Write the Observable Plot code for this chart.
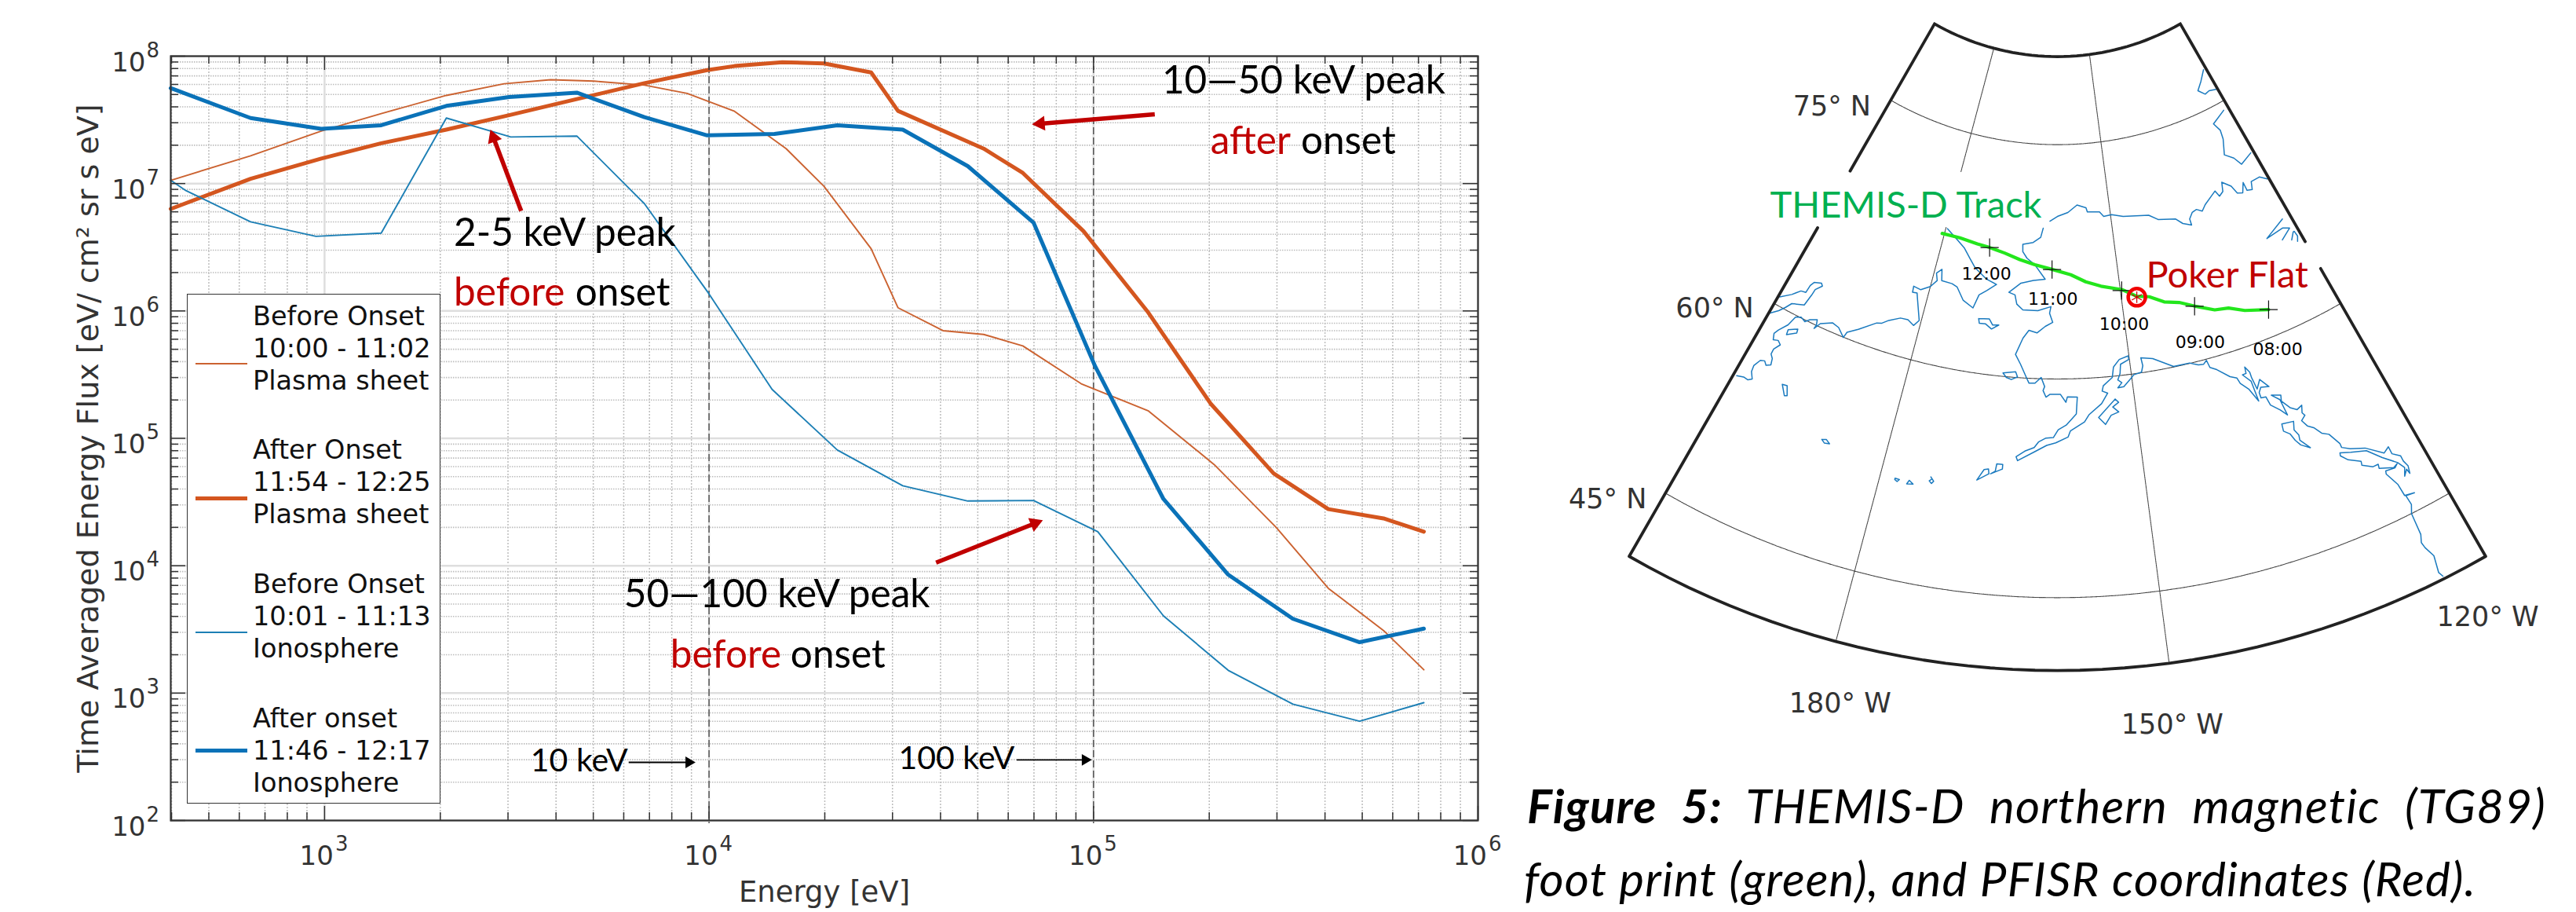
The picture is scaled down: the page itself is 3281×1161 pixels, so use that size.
<!DOCTYPE html><html><head><meta charset="utf-8">
<script src="https://cdn.jsdelivr.net/npm/d3@7"></script>
<script src="https://cdn.jsdelivr.net/npm/@observablehq/plot@0.6"></script>
<style>
html,body{margin:0;padding:0;background:#fff;overflow:hidden;width:3281px;height:1161px}
#stage{position:relative;width:3281px;height:1161px}
#stage svg{position:absolute;left:0;top:0;background:transparent}
.abs{position:absolute;white-space:nowrap}
.leg{font-family:"DejaVu Sans";font-size:33.5px;line-height:41px;color:#111}
.cap{font-family:Lato;font-style:italic;font-size:60px;line-height:70px;letter-spacing:1.2px;color:#000}
</style></head><body><div id="stage"></div>
<script>
// ---------- spectra: energy [eV] and time-averaged energy flux ----------
const energyPS0 = [398,642,980,1404,2074,2930,3873,5023,6790,8768,11650,15870,19900,26400,31000,40600,51800,65500,92900,139000,206000,298600,408000,568000,723000];
const fluxPS0 = [1.06e7,1.65e7,2.58e7,3.54e7,4.92e7,6.07e7,6.53e7,6.37e7,5.92e7,5.10e7,3.69e7,1.88e7,9.53e6,3.08e6,1.06e6,7.0e5,6.54e5,5.31e5,2.68e5,1.64e5,62200,20000,6650,3100,1524];
const energyPS1 = [398,642,980,1404,2074,3020,4530,6790,9890,11650,15500,19900,26400,31000,51800,65500,94200,138000,202000,294000,408000,568000,723000];
const fluxPS1 = [6.32e6,1.09e7,1.57e7,2.07e7,2.65e7,3.44e7,4.60e7,6.14e7,7.78e7,8.36e7,8.96e7,8.77e7,7.45e7,3.72e7,1.88e7,1.21e7,4.22e6,9.95e5,1.86e5,53100,27800,23500,18500];
const energyIon0 = [398,436,642,950,1404,2074,3050,4530,6790,10000,14590,21560,31900,47100,69800,102600,152000,224000,330000,492000,723000];
const fluxIon0 = [1.06e7,8.8e6,5.01e6,3.85e6,4.08e6,3.27e7,2.32e7,2.36e7,6.95e6,1.36e6,2.42e5,8.1e4,42400,32200,32500,18500,4040,1510,820,601,841];
const energyIon1 = [398,642,980,1404,2074,3020,4530,6790,9890,14800,21560,31900,47100,69800,101000,152000,224000,330000,492000,723000];
const fluxIon1 = [5.61e7,3.27e7,2.69e7,2.87e7,4.07e7,4.78e7,5.17e7,3.32e7,2.39e7,2.45e7,2.87e7,2.65e7,1.37e7,4.94e6,3.67e5,33400,8510,3830,2510,3210];

const seriesNames = ["Before Onset PS","After Onset PS","Before Onset Iono","After onset Iono"];
const legendLines = [["Before Onset","10:00 - 11:02","Plasma sheet"],["After Onset","11:54 - 12:25","Plasma sheet"],["Before Onset","10:01 - 11:13","Ionosphere"],["After onset","11:46 - 12:17","Ionosphere"]];
const xMajor = [1e3,1e4,1e5,1e6];
const yMajor = [1e2,1e3,1e4,1e5,1e6,1e7,1e8];
const xExp = ["3","4","5","6"];
const yExp = ["2","3","4","5","6","7","8"];
const keVLines = [1e4,1e5];

// annotations: text, energy, flux, colour
const annText  = ["2-5 keV peak","before","onset","10—50 keV peak","after","onset","50—100 keV peak","before","onset"];
const annE     = [2169,2169,4489,150600,201500,346200,6010,7930,16290];
const annF     = [3.24e6,1.095e6,1.095e6,5.13e7,1.696e7,1.696e7,4721,1574,1574];
const annColor = ["#000","#c00000","#000","#000","#c00000","#000","#000","#c00000","#000"];
const keVText = ["10 keV","100 keV"], keVE = [3435,31100], keVF = [241.5,252];
// shaft start (E,F), shaft end (E,F), tip (E,F)
const redShaft = [[3246,6.10e6,2749,2.30e7],[1.443e5,3.50e7,7.28e4,2.95e7],[3.895e4,1.057e4,7.04e4,2.15e4]];
const redTips = [[2702,2.633e7],[6.93e4,2.92e7],[7.37e4,2.27e4]];
const blackShaft = [[6180,286,9000,286],[6.31e4,299,9.6e4,299]];
const blackTips = [[9221,286],[9.9e4,299]];

// ---------- map (west longitude, latitude) ----------
const coastChukchi = [[199.8,60.57],[198.5,61.11],[197.6,61.61],[196.9,61.68],[196.8,62.23],[196.5,62.52],[195.5,62.70],[195.2,62.55],[195.9,62.13],[196.0,61.70],[196.3,60.88],[197.9,60.57],[198.4,60.15],[199.0,59.73],[199.9,59.27]];
const coastBering = [[199.6,54.47],[198.8,54.62],[198.2,54.59],[197.8,54.78],[198.3,55.21],[198.4,55.64],[198.0,56.17],[197.5,56.28],[197.1,56.05],[196.6,56.23],[196.8,56.66],[197.2,56.90],[197.2,57.27],[196.7,57.74],[197.2,57.94],[197.8,57.82],[198.1,58.23],[197.8,58.57],[197.0,59.19],[196.6,59.88],[195.9,60.05],[195.2,59.89],[194.7,60.16],[193.8,60.37],[193.6,60.02],[193.7,59.75],[193.2,60.22],[191.7,60.61],[190.7,60.48],[189.6,59.98],[189.4,60.40],[188.1,60.86],[186.0,61.69],[185.3,61.79],[184.5,62.11],[183.0,62.50],[181.9,62.54],[180.9,62.27],[180.3,62.69],[181.4,64.04],[181.7,64.40],[182.4,64.37],[182.5,64.77],[181.3,64.68],[180.0,65.05],[179.2,65.54],[179.6,66.00],[178.9,66.33],[178.5,65.61],[176.8,65.57],[175.9,65.42],[174.6,64.66],[172.9,64.27],[172.3,65.18],[171.2,65.54],[169.8,66.02],[171.5,66.27],[173.7,66.90],[174.8,67.42],[176.1,68.01],[178.0,68.53],[179.7,68.95]];
const coastAlaska = [[162.6,69.87],[163.0,69.28],[164.3,68.93],[166.1,68.77],[166.0,68.30],[165.2,67.90],[163.8,67.51],[162.0,66.60],[163.9,66.49],[165.9,66.27],[167.7,65.60],[166.7,65.47],[166.3,64.88],[165.3,64.53],[163.0,64.53],[161.0,64.82],[161.2,64.38],[160.7,63.78],[161.8,63.51],[163.0,63.06],[164.2,63.21],[165.0,62.66],[165.9,61.55],[165.1,60.91],[164.2,60.05],[163.8,59.67],[163.0,59.69],[162.2,60.09],[161.7,59.48],[161.9,59.21],[161.5,58.77],[161.0,58.96],[159.6,58.96],[158.9,58.42],[158.7,58.78],[157.4,58.76],[157.6,57.61],[158.9,56.87],[159.9,56.56],[160.5,56.02],[161.4,55.98],[162.3,55.70],[162.8,55.31],[163.9,55.04],[164.9,54.62],[164.7,54.36],[162.8,55.00],[161.3,55.48],[160.2,55.66],[158.7,56.05],[158.4,56.46],[156.6,57.05],[156.0,57.52],[154.3,58.22],[153.4,58.90],[154.1,59.07],[153.9,59.42],[152.6,59.93],[152.3,60.62],[151.4,61.08],[150.1,61.25],[150.1,61.00],[151.3,60.75],[151.5,60.14],[151.9,59.72],[151.4,59.51],[152.0,59.19],[151.2,59.23],[150.0,59.78],[149.7,59.94],[148.6,60.04],[148.3,60.46],[148.4,61.00],[146.8,60.82],[144.2,60.04],[142.0,60.03],[140.9,59.76],[140.2,59.72],[139.7,59.92],[139.5,59.40],[138.7,59.13],[137.3,58.42],[136.5,58.19],[136.3,57.77],[135.5,57.23],[134.8,56.24],[134.9,57.68],[135.7,58.28],[135.2,58.30],[135.1,58.74],[134.7,58.30],[134.7,57.93],[134.5,57.05],[133.8,57.61],[133.0,56.94],[134.0,57.08],[134.4,56.78],[134.4,56.40],[133.8,56.35],[133.6,55.72],[132.7,55.17],[132.1,54.68],[132.3,55.84],[133.1,56.33],[132.0,56.11],[132.2,55.71],[131.5,55.08],[130.8,54.78],[130.1,54.94],[130.4,54.45],[130.2,54.22],[130.8,53.96],[130.4,53.48],[129.8,53.20],[129.2,52.64],[128.5,52.37],[127.8,51.49],[127.8,51.19],[127.0,50.86],[125.5,50.47],[123.9,49.58],[123.2,49.83],[123.2,49.29],[122.5,48.89],[122.5,48.48],[122.3,48.03],[122.5,47.52],[122.6,47.88],[123.1,47.51],[122.7,48.04],[123.1,48.57],[124.3,49.36],[125.5,50.27],[127.1,50.62],[128.2,50.90],[128.3,50.70],[127.7,50.23],[126.5,49.77],[126.6,49.49],[125.6,49.07],[125.0,49.07],[125.1,48.79],[123.7,48.38],[123.2,48.52],[123.6,48.33],[124.6,48.43],[124.7,48.22],[124.1,47.21],[124.0,46.33],[123.0,46.19],[123.9,46.27],[123.8,45.57],[124.2,44.99],[124.3,43.43],[124.6,42.91],[124.5,42.49],[124.1,41.72],[124.4,40.54],[124.2,40.19]];
const coastArctic = [[161.4,70.32],[160.0,70.62],[158.0,70.86],[156.2,71.30],[154.5,71.10],[154.3,70.83],[152.0,70.77],[151.3,70.46],[149.8,70.51],[147.7,70.29],[143.0,70.06],[141.5,69.66],[138.4,69.40],[137.4,69.00],[136.0,68.74],[136.0,69.14],[135.2,69.49],[134.3,69.58],[133.4,69.36],[132.5,69.68],[129.9,70.25],[129.5,69.84],[128.6,70.03],[128.1,70.59],[126.8,70.12],[126.3,69.57],[125.4,69.43],[124.5,70.01],[124.5,69.45],[123.6,69.35],[123.1,69.83],[121.4,69.84],[120.3,69.49]];
const coastBanks = [[120.7,77.14],[122.7,76.62],[124.4,76.22],[123.2,75.85],[122.0,75.92],[120.4,75.80]];
const coastAmundsen = [[121.2,74.49],[124.6,74.05],[123.9,73.52],[124.2,72.97],[125.4,72.07],[124.0,71.63],[123.2,71.07],[120.6,71.42]];
const coastLakeA = [[121.4,66.77],[125.1,66.11],[122.1,66.25],[121.1,66.03],[123.0,65.57]];
const coastLakeB = [[121.7,65.28],[120.9,65.69],[120.7,65.70],[120.6,65.32],[121.0,65.02]];
const islands = [
 [[133.1,54.23],[131.7,54.12],[132.0,53.56],[131.7,53.11],[131.8,52.76],[131.0,52.01],[131.9,52.43],[132.3,52.86],[132.6,53.40],[133.2,53.73],[133.1,54.23]],
 [[152.5,58.45],[152.1,58.21],[152.9,57.93],[152.2,57.56],[153.2,57.38],[154.0,56.79],[154.8,57.30],[152.5,58.45]],
 [[169.2,52.78],[168.5,53.55],[168.0,53.62],[167.9,53.30],[169.2,52.78]],
 [[167.7,53.31],[167.2,53.52],[167.1,54.03],[166.4,54.03],[166.4,53.71],[167.7,53.31]],
 [[178.3,51.90],[177.8,51.88],[178.0,51.71],[178.3,51.81],[178.3,51.90]],
 [[176.9,51.70],[176.7,51.98],[176.2,51.78],[176.9,51.70]],
 [[174.4,52.51],[174.0,52.25],[174.2,52.07],[174.5,52.22],[174.3,52.34]],
 [[167.4,60.23],[165.7,60.39],[165.4,60.05],[166.2,59.84],[166.9,59.95],[167.4,60.23]],
 [[171.8,63.64],[170.2,63.71],[169.6,63.34],[168.7,63.39],[169.7,63.07],[170.7,63.36],[171.6,63.34],[171.8,63.64]],
 [[196.7,58.90],[195.6,59.23],[195.5,58.96],[196.6,58.55],[196.7,58.90]],
 [[194.3,55.39],[193.7,55.45],[193.2,54.83],[193.5,54.75],[194.3,55.39]],
 [[187.5,52.97],[187.0,53.07],[186.5,52.87],[187.1,52.80],[187.5,52.97]]
];
const track = [[180.4,68.57],[177.2,68.57],[174.0,68.42],[171.8,68.32],[169.1,68.10],[166.4,67.78],[163.8,67.51],[160.8,67.24],[157.8,66.89],[155.4,66.39],[153.0,66.03],[149.7,65.65],[147.6,65.08],[145.7,64.91],[143.6,64.38],[141.4,64.12],[139.2,63.61],[136.6,63.01],[134.6,62.84],[132.5,62.32],[129.3,61.79]];
const trackTicks = [[171.8,68.32],[160.9,67.24],[149.8,65.60],[139.3,63.62],[129.3,61.79]];
const timeLabels = ["12:00","11:00","10:00","09:00","08:00"];
const timePos = [[171.5,66.22],[160.7,64.92],[150.2,62.98],[140.1,60.81],[130.5,58.74]];
const gridLabels = ["75° N","60° N","45° N","180° W","150° W","120° W"];
const gridPos = [[214.8,70.79],[209.5,55.51],[206.9,40.57],[182.2,34.53],[154.7,35.54],[126.6,37.30]];
const pokerFlat = [147.6,65.02];
const mapNames = [["THEMIS-D Track",207.1,64.67,"#00b050"],["Poker Flat",145.9,65.52,"#c00000"]];

// ---------- chart ----------
const orange="#d4561f", blue="#0a72b8";
const decades=[1e2,1e3,1e4,1e5,1e6,1e7];
const mult=[2,3,4,5,6,7,8,9];
const xMinor=[...[400,500,600,700,800,900],...[1e3,1e4,1e5].flatMap(d=>mult.map(m=>m*d))];
const yMinor=decades.flatMap(d=>mult.map(m=>m*d));
const frameW=1665, frameH=973;
const zipS=(E,F)=>E.map((e,i)=>({e,f:F[i]}));
const ann=annText.map((t,i)=>({t,e:annE[i],f:annF[i],c:annColor[i]}));
const keV=keVText.map((t,i)=>({t,e:keVE[i],f:keVF[i]}));
const axisText={fontFamily:"DejaVu Sans",fill:"#333"};
const linkOpts=s=>({x1:d=>d[0],y1:d=>d[1],x2:d=>d[2],y2:d=>d[3],...s});
const redHeadStyle=[{rotate:-20.7,dx:3.7,dy:9.7},{rotate:-94.6,dx:10.4,dy:-0.8},{rotate:68.3,dx:-9.7,dy:3.9}];

const chart=Plot.plot({
  width:3281,height:1161,marginLeft:217,marginRight:1399,marginTop:71,marginBottom:117,
  x:{type:"log",domain:[Math.pow(10,2.6),1e6],axis:null},
  y:{type:"log",domain:[1e2,1e8],axis:null},
  style:{background:"transparent"},
  marks:[
    Plot.ruleX(xMinor,{stroke:"#bdbdbd",strokeWidth:1.5,strokeDasharray:"2,2"}),
    Plot.ruleY(yMinor,{stroke:"#bdbdbd",strokeWidth:1.6,strokeDasharray:"1.5,1.5"}),
    Plot.ruleX(xMajor,{stroke:"#dedede",strokeWidth:2.5}),
    Plot.ruleY(yMajor,{stroke:"#dedede",strokeWidth:2.5}),
    Plot.ruleX(keVLines,{stroke:"#555",strokeWidth:1.5,strokeDasharray:"9,4",insetBottom:-4}),
    Plot.line(zipS(energyPS0,fluxPS0),{x:"e",y:"f",stroke:"#cb6230",strokeWidth:1.9}),
    Plot.line(zipS(energyPS1,fluxPS1),{x:"e",y:"f",stroke:orange,strokeWidth:5}),
    Plot.line(zipS(energyIon0,fluxIon0),{x:"e",y:"f",stroke:"#1c7fb5",strokeWidth:1.9}),
    Plot.line(zipS(energyIon1,fluxIon1),{x:"e",y:"f",stroke:blue,strokeWidth:5}),
    // ticks on all four sides
    Plot.ruleX(xMajor,{stroke:"#333",strokeWidth:1.5,insetTop:frameH-18}),
    Plot.ruleX(xMajor,{stroke:"#333",strokeWidth:1.5,insetBottom:frameH-18}),
    Plot.ruleX(xMinor,{stroke:"#333",strokeWidth:1.5,insetTop:frameH-10}),
    Plot.ruleX(xMinor,{stroke:"#333",strokeWidth:1.5,insetBottom:frameH-10}),
    Plot.ruleY(yMajor,{stroke:"#333",strokeWidth:1.5,insetRight:frameW-19}),
    Plot.ruleY(yMajor,{stroke:"#333",strokeWidth:1.5,insetLeft:frameW-19}),
    Plot.ruleY(yMinor,{stroke:"#333",strokeWidth:1.5,insetRight:frameW-10}),
    Plot.ruleY(yMinor,{stroke:"#333",strokeWidth:1.5,insetLeft:frameW-10}),
    Plot.frame({stroke:"#333",strokeWidth:2.2}),
    // tick labels
    Plot.text(yMajor,{...axisText,frameAnchor:"left",y:d=>d,text:()=>"10",fontSize:34,textAnchor:"end",lineAnchor:"bottom",dx:-32,dy:19}),
    Plot.text(yMajor,{...axisText,frameAnchor:"left",y:d=>d,text:(d,i)=>yExp[i],fontSize:26,textAnchor:"start",lineAnchor:"bottom",dx:-31,dy:1}),
    Plot.text(xMajor,{...axisText,frameAnchor:"bottom",x:d=>d,text:()=>"10",fontSize:34,textAnchor:"end",lineAnchor:"bottom",dx:11.5,dy:56}),
    Plot.text(xMajor,{...axisText,frameAnchor:"bottom",x:d=>d,text:(d,i)=>xExp[i],fontSize:26,textAnchor:"start",lineAnchor:"bottom",dx:13.5,dy:38}),
    Plot.text(["Energy [eV]"],{...axisText,frameAnchor:"bottom",text:d=>d,fontSize:37,textAnchor:"middle",lineAnchor:"bottom",dy:103}),
    Plot.text(["Time Averaged Energy Flux [eV/ cm² sr s eV]"],{...axisText,frameAnchor:"left",text:d=>d,fontSize:38,rotate:-90,textAnchor:"middle",lineAnchor:"bottom",dx:-93}),
    // annotations
    Plot.text(ann,{x:"e",y:"f",text:"t",fill:"c",fontFamily:"Lato",fontSize:49.5,textAnchor:"start",lineAnchor:"bottom"}),
    Plot.text(keV,{x:"e",y:"f",text:"t",fill:"#000",fontFamily:"Lato",fontSize:41,textAnchor:"start",lineAnchor:"bottom"}),
    Plot.link(redShaft,linkOpts({stroke:"#c00000",strokeWidth:5.5})),
    ...redTips.map((t,i)=>Plot.dot([t],{x:d=>d[0],y:d=>d[1],symbol:"triangle",r:7,fill:"#c00000",...redHeadStyle[i]})),
    Plot.link(blackShaft,linkOpts({stroke:"#000",strokeWidth:1.8})),
    Plot.dot(blackTips,{x:d=>d[0],y:d=>d[1],symbol:"triangle",r:5.5,fill:"#000",rotate:90,dx:-8.5})
  ]
});

// ---------- map, Lambert conformal conic through the library's projection ----------
const parallel0=48.25, n0=Math.sin(parallel0*Math.PI/180);
const f0=Math.cos(parallel0*Math.PI/180)*Math.pow(Math.tan(Math.PI/4+parallel0*Math.PI/360),n0)/n0;
const kf=1936.6;
const proj=d3.geoConicConformal().parallels([parallel0,parallel0]).rotate([160,0]).scale(kf/f0).translate([2620,kf-243]).precision(0.2);
const parallelLine=(lat)=>d3.range(-200,-119.5,2).map(lon=>[lon,lat]);
const meridianLine=(lon,a,b)=>[...d3.range(a,b,-2),b].map(lat=>[lon,lat]);
const outline={type:"MultiLineString",coordinates:[
  parallelLine(80),parallelLine(40),
  meridianLine(-200,80,70),meridianLine(-200,65.8,40),
  meridianLine(-120,80,64.76),meridianLine(-120,62.7,40)]};
const graticule={type:"MultiLineString",coordinates:[
  parallelLine(75),parallelLine(60),parallelLine(45),
  meridianLine(-180,80,72.6),meridianLine(-180,69,40),meridianLine(-150,80,40)]};
const west=l=>l.map(([w,lat])=>[-w,lat]);
const coast={type:"MultiLineString",coordinates:[coastChukchi,coastBering,coastAlaska,coastArctic,coastBanks,coastAmundsen,coastLakeA,coastLakeB,...islands].map(west)};
const pt=(arr,labels)=>arr.map((p,i)=>({x:-p[0],y:p[1],t:labels?labels[i]:""}));
const map=Plot.plot({
  width:3281,height:1161,margin:0,projection:proj,style:{background:"transparent"},
  marks:[
    Plot.geo(graticule,{stroke:"#444",strokeWidth:1.1,strokeDasharray:"1.6,0.8"}),
    Plot.geo(coast,{stroke:"#1a7abf",strokeWidth:1.5}),
    Plot.geo(outline,{stroke:"#222",strokeWidth:3.8}),
    Plot.geo({type:"LineString",coordinates:west(track)},{stroke:"#23e61c",strokeWidth:4.2}),
    Plot.dot(pt(trackTicks),{x:"x",y:"y",symbol:"plus",r:7.5,stroke:"#111",strokeWidth:1.2}),
    Plot.dot(pt([pokerFlat]),{x:"x",y:"y",r:11,stroke:"#f00000",strokeWidth:4.5,fill:"none"}),
    Plot.dot(pt([pokerFlat]),{x:"x",y:"y",symbol:"asterisk",r:7,stroke:"#d00000",strokeWidth:1.2}),
    Plot.text(pt(gridPos,gridLabels),{x:"x",y:"y",text:"t",fontFamily:"DejaVu Sans",fontSize:35,fill:"#333",textAnchor:"start",lineAnchor:"bottom"}),
    Plot.text(pt(timePos,timeLabels),{x:"x",y:"y",text:"t",fontFamily:"DejaVu Sans",fontSize:22,fill:"#000",textAnchor:"middle",lineAnchor:"bottom"}),
    Plot.text(mapNames,{x:d=>-d[1],y:d=>d[2],text:d=>d[0],fill:d=>d[3],fontFamily:"Lato",fontSize:47,textAnchor:"start",lineAnchor:"bottom"})
  ]
});

const stage=document.getElementById("stage");
stage.append(chart,map);

// ---------- legend ----------
const box=document.createElement("div");
box.className="abs";
box.style.cssText="left:238px;top:374px;width:321px;height:647px;background:#fff;border:1.6px solid #333;";
stage.append(box);
const legTop=[381.5,552,723,894.4];
const swatchY=[463,634.5,805,955];
legendLines.forEach((lines,i)=>{
  const d=document.createElement("div");
  d.className="abs leg";
  d.style.left="322px";d.style.top=legTop[i]+"px";
  d.innerHTML=lines.join("<br>");
  stage.append(d);
  const s=document.createElement("div");
  s.className="abs";
  const thick=i%2===1, col=i<2?(thick?orange:"#cb6230"):(thick?blue:"#1c7fb5"), h=thick?5:2;
  s.style.cssText=`left:249px;top:${swatchY[i]-h/2}px;width:66px;height:${h}px;background:${col}`;
  s.title=seriesNames[i];
  stage.append(s);
});

// ---------- caption ----------
const c1=document.createElement("div");
c1.className="abs cap";
c1.style.cssText="left:1945px;top:990px;width:1298px;white-space:normal;text-align:justify;text-align-last:justify";
c1.innerHTML="<b>Figure 5:</b> THEMIS-D northern magnetic (TG89)";
const c2=document.createElement("div");
c2.className="abs cap";
c2.style.cssText="left:1941px;top:1083px";
c2.textContent="foot print (green), and PFISR coordinates (Red).";
stage.append(c1,c2);
</script></body></html>
